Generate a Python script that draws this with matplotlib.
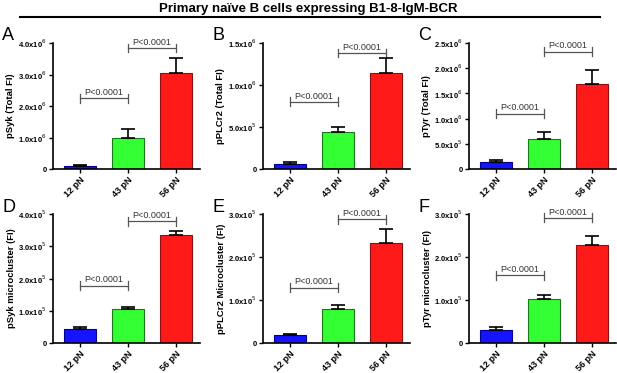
import matplotlib
matplotlib.use("Agg")
import matplotlib.pyplot as plt

plt.rcParams['font.family'] = ['Liberation Sans', 'DejaVu Sans']

forces = ['12 pN', '43 pN', '56 pN']
colors = ['#1414ff', '#33ff33', '#ff1a1a']
edges = ['#00008a', '#1a7a1a', '#8a1010']

letters = ['A', 'B', 'C', 'D', 'E', 'F']
ylabels = ['pSyk (Total FI)', 'pPLCr2 (Total FI)', 'pTyr (Total FI)',
           'pSyk microcluster (FI)', 'pPLCr2 Microcluster (FI)', 'pTyr microcluster (FI)']

# bar means and upper error (mean + sem)
means_A = [0.10e6, 0.98e6, 3.05e6]
tops_A = [0.14e6, 1.27e6, 3.52e6]
means_B = [0.065e6, 0.44e6, 1.14e6]
tops_B = [0.08e6, 0.505e6, 1.32e6]
means_C = [0.135e6, 0.60e6, 1.69e6]
tops_C = [0.185e6, 0.73e6, 1.97e6]
means_D = [0.44e5, 1.05e5, 3.34e5]
tops_D = [0.50e5, 1.12e5, 3.48e5]
means_E = [0.175e5, 0.80e5, 2.32e5]
tops_E = [0.20e5, 0.88e5, 2.64e5]
means_F = [0.31e5, 1.03e5, 2.28e5]
tops_F = [0.37e5, 1.12e5, 2.48e5]

means = [means_A, means_B, means_C, means_D, means_E, means_F]
tops = [tops_A, tops_B, tops_C, tops_D, tops_E, tops_F]

# y ticks per panel
ticks_A = [0, 1e6, 2e6, 3e6, 4e6]
labels_A = ['0', r'1.0x10$^6$', r'2.0x10$^6$', r'3.0x10$^6$', r'4.0x10$^6$']
ticks_B = [0, 5e5, 1e6, 1.5e6]
labels_B = ['0', r'5.0x10$^5$', r'1.0x10$^6$', r'1.5x10$^6$']
ticks_C = [0, 5e5, 1e6, 1.5e6, 2e6, 2.5e6]
labels_C = ['0', r'5.0x10$^5$', r'1.0x10$^6$', r'1.5x10$^6$', r'2.0x10$^6$', r'2.5x10$^6$']
ticks_D = [0, 1e5, 2e5, 3e5, 4e5]
labels_D = ['0', r'1.0x10$^5$', r'2.0x10$^5$', r'3.0x10$^5$', r'4.0x10$^5$']
ticks_EF = [0, 1e5, 2e5, 3e5]
labels_EF = ['0', r'1.0x10$^5$', r'2.0x10$^5$', r'3.0x10$^5$']

yticks = [ticks_A, ticks_B, ticks_C, ticks_D, ticks_EF, ticks_EF]
yticklabels = [labels_A, labels_B, labels_C, labels_D, labels_EF, labels_EF]

# bracket heights (lower: 12 vs 43, upper: 43 vs 56)
brackets = [(2.25e6, 3.84e6), (0.80e6, 1.38e6), (1.10e6, 2.33e6),
            (1.78e5, 3.77e5), (1.29e5, 2.88e5), (1.58e5, 2.91e5)]
ptext = 'P<0.0001'

fig = plt.figure(figsize=(6.17, 3.73), dpi=100)
W, H = 617, 373

fig.text(0.5, 1 - 9 / H, 'Primary naïve B cells expressing B1-8-IgM-BCR',
         ha='center', va='center', fontsize=9.5, fontweight='bold')
fig.add_artist(plt.Line2D([20 / W, 600 / W], [1 - 17 / H, 1 - 17 / H], color='black', lw=1.5))

lefts = [53, 263, 469]
rows = [(43, 169), (214, 343)]

x = [0, 1, 2]
for i in range(6):
    r, c = divmod(i, 3)
    top, bot = rows[r]
    ax = fig.add_axes([lefts[c] / W, 1 - bot / H, 147 / W, (bot - top) / H])
    m = means[i]
    t = tops[i]
    ax.bar(x, m, width=0.68, color=colors, edgecolor=edges, linewidth=0.8, zorder=2)
    err = [tt - mm for tt, mm in zip(t, m)]
    ax.errorbar(x, m, yerr=[[0, 0, 0], err], fmt='none', ecolor='black',
                elinewidth=1.2, capsize=5, capthick=1.2, zorder=3)
    ymax = yticks[i][-1]
    ax.set_ylim(0, ymax)
    ax.set_xlim(-0.56, 2.5)
    ax.set_yticks(yticks[i])
    ax.set_yticklabels(yticklabels[i], fontsize=5.5, fontweight='bold')
    ax.set_xticks(x)
    ax.set_xticklabels(forces, rotation=45, ha='right', rotation_mode='anchor',
                       fontsize=6.5, fontweight='bold')
    ax.set_ylabel(ylabels[i], fontsize=6.8, fontweight='bold', labelpad=2)
    for s in ['top', 'right']:
        ax.spines[s].set_visible(False)
    ax.spines['left'].set_linewidth(1.2)
    ax.spines['bottom'].set_linewidth(1.2)
    ax.tick_params(axis='both', length=3, width=1, pad=1.5)

    h = 0.035 * ymax
    for j, yb in enumerate(brackets[i]):
        x0, x1 = j, j + 1
        ax.plot([x0, x1], [yb, yb], color='#555555', lw=0.9, clip_on=False)
        ax.plot([x0, x0], [yb - h, yb + h], color='#555555', lw=0.9, clip_on=False)
        ax.plot([x1, x1], [yb - h, yb + h], color='#555555', lw=0.9, clip_on=False)
        ax.text((x0 + x1) / 2, yb + 0.01 * ymax, ptext, ha='center', va='bottom',
                fontsize=6.5, color='#333333')

    fig.text((lefts[c] - 51) / W, 1 - (top - 7) / H, letters[i],
             ha='left', va='center', fontsize=13)

fig.savefig('out.png', dpi=100)
